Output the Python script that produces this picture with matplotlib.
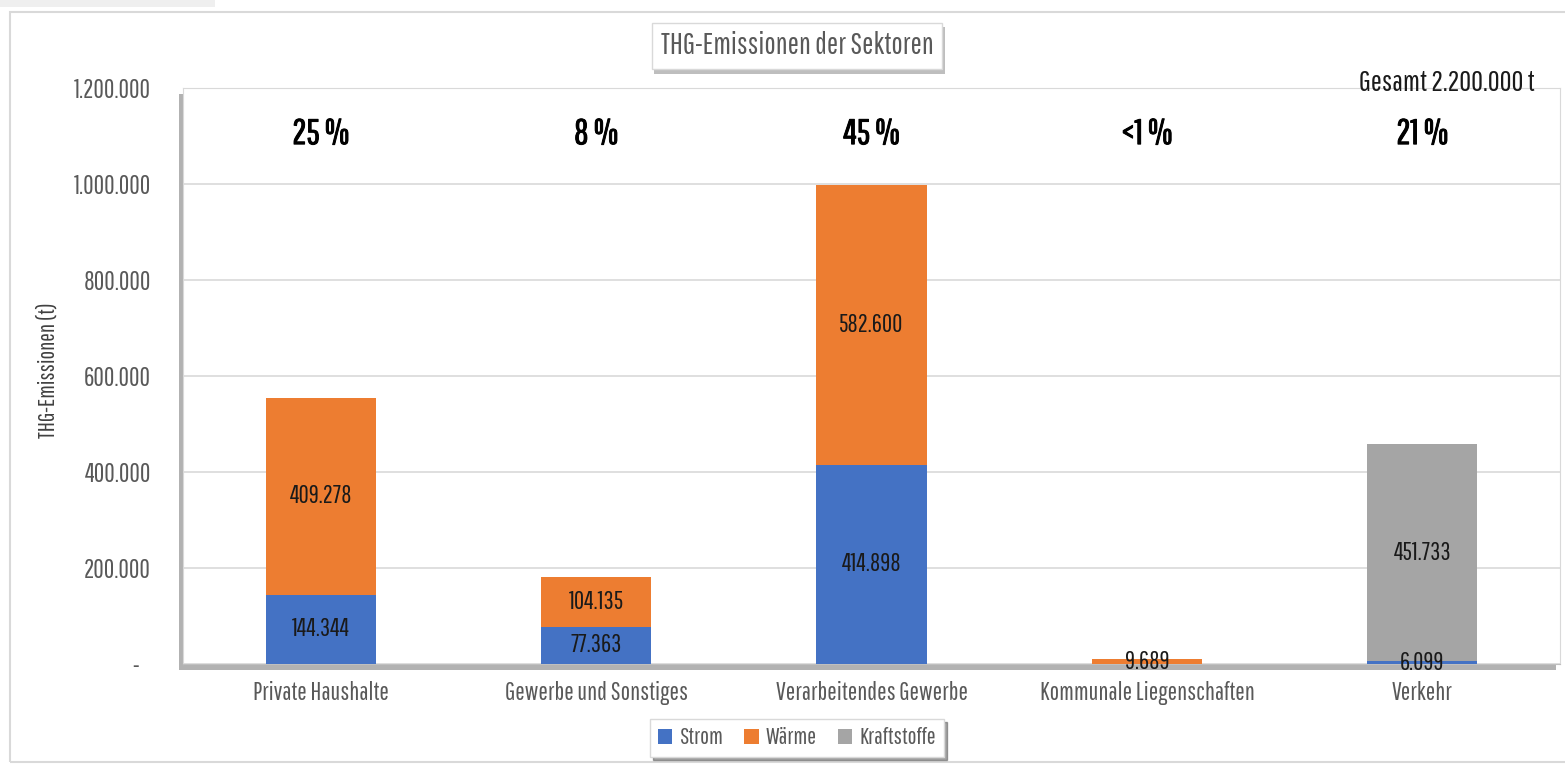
import numpy as np
import matplotlib.pyplot as plt
from matplotlib.patches import Rectangle
import matplotlib.patheffects as pe

plt.rcParams['font.family'] = ['Pathway Gothic One', 'DejaVu Sans']

sektoren = ['Private Haushalte', 'Gewerbe und Sonstiges', 'Verarbeitendes Gewerbe',
            'Kommunale Liegenschaften', 'Verkehr']
strom = [144344, 77363, 414898, 0, 6099]
waerme = [409278, 104135, 582600, 9689, 0]
kraftstoffe = [0, 0, 0, 0, 451733]
anteile = ['25 %', '8 %', '45 %', '<1 %', '21 %']
yticks = [0, 200000, 400000, 600000, 800000, 1000000, 1200000]

C_STROM = '#4472C4'
C_WAERME = '#ED7D31'
C_KRAFT = '#A5A5A5'
GREY_TXT = '#595959'


def fmt(v):
    return f"{v:,}".replace(",", ".") if v else ''


fig = plt.figure(figsize=(15.65, 7.66), dpi=100)

# outer chart frame + little strip at top left
fig.patches.append(Rectangle((10 / 1565, 0.005), 1.0, 1 - 12 / 766 - 0.005,
                             transform=fig.transFigure, fill=False,
                             edgecolor='#d9d9d9', lw=1.5))
fig.patches.append(Rectangle((0, 1 - 7 / 766), 215 / 1565, 7 / 766,
                             transform=fig.transFigure, color='#efefef', lw=0))

ax = fig.add_axes([183 / 1565, 1 - 664 / 766, (1560 - 183) / 1565, (664 - 88) / 766])
ax.patch.set_path_effects([pe.SimplePatchShadow(offset=(-3, -4), shadow_rgbFace='#7f7f7f', alpha=0.6),
                           pe.Normal()])

x = np.arange(len(sektoren))
w = 0.4
b1 = ax.bar(x, strom, w, color=C_STROM, label='Strom', zorder=3)
b2 = ax.bar(x, waerme, w, bottom=strom, color=C_WAERME, label='Wärme', zorder=3)
bot3 = np.array(strom) + np.array(waerme)
b3 = ax.bar(x, kraftstoffe, w, bottom=bot3, color=C_KRAFT, label='Kraftstoffe', zorder=3)

for bars, vals in [(b1, strom), (b2, waerme), (b3, kraftstoffe)]:
    ax.bar_label(bars, labels=[fmt(v) for v in vals], label_type='center',
                 fontsize=18, color='#1a1a1a', zorder=5)

# percentages, slightly emboldened
bold = [pe.withStroke(linewidth=0.7, foreground='black')]
for xi, a in zip(x, anteile):
    ax.text(xi, 1105000, a, ha='center', va='center', fontsize=25.5,
            color='black', path_effects=bold)

ax.text(1.0 - 25 / 1377, 1.008, 'Gesamt 2.200.000 t', transform=ax.transAxes,
        ha='right', va='center', fontsize=21, color='#1a1a1a', clip_on=False)

ax.set_xlim(-0.5, 4.5)
ax.set_ylim(0, 1200000)
ax.set_yticks(yticks)
ax.set_yticklabels(['-   '] + [fmt(v) for v in yticks[1:]])
ax.set_xticks(x)
ax.set_xticklabels(sektoren)
ax.tick_params(axis='both', length=0, labelsize=18, colors=GREY_TXT)
ax.tick_params(axis='y', pad=23, labelsize=18.5)
ax.tick_params(axis='x', pad=12)
ax.grid(axis='y', color='#d9d9d9', lw=1.2, zorder=0)
ax.set_axisbelow(True)
for s in ax.spines.values():
    s.set_color('#d9d9d9')
ax.spines['bottom'].set_color('#bfbfbf')

fig.text(48 / 1565, 1 - 370 / 766, 'THG-Emissionen (t)', rotation=90, ha='center', va='center',
         fontsize=16.5, color='#404040')

fig.text(797 / 1565, 1 - 46 / 766, 'THG-Emissionen der Sektoren', ha='center', va='center',
         fontsize=21.5, color=GREY_TXT,
         bbox=dict(boxstyle='square,pad=0.3', fc='white', ec='#d9d9d9', lw=1,
                   path_effects=[pe.SimplePatchShadow(offset=(2, -3), shadow_rgbFace='#7f7f7f', alpha=0.5),
                                 pe.Normal()]))

leg = fig.legend(handles=[b1, b2, b3], loc='center', bbox_to_anchor=(797 / 1565, 1 - 738 / 766),
                 ncol=3, fontsize=17, frameon=True, fancybox=False, shadow=True,
                 handlelength=0.6, handleheight=0.6, handletextpad=0.3, columnspacing=0.9,
                 borderpad=0.35, edgecolor='#d9d9d9')
for t in leg.get_texts():
    t.set_color(GREY_TXT)

fig.savefig('out.png', dpi=100)
